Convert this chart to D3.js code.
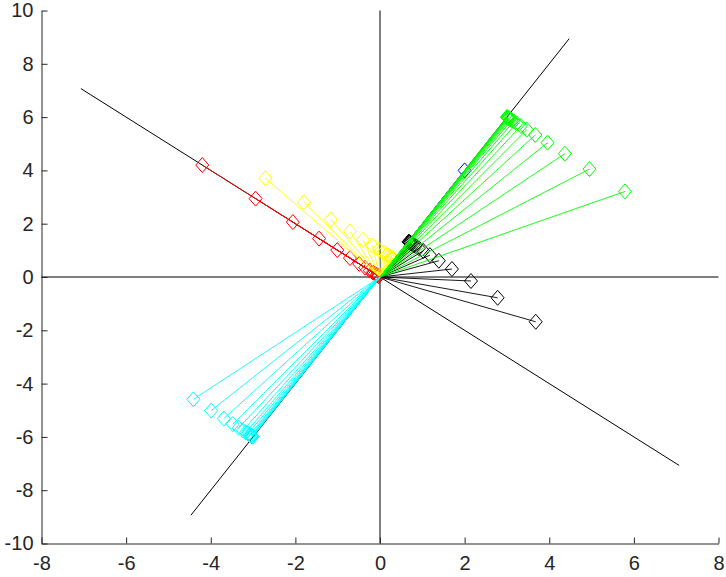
<!DOCTYPE html>
<html><head><meta charset="utf-8">
<script src="https://cdn.jsdelivr.net/npm/d3@7"></script>
<style>body{margin:0;background:#fff}svg{display:block}text{font-family:"Liberation Sans",Arial,Helvetica,sans-serif}</style>
</head><body>
<script>
// ---- data ----
const xTicks = [-8,-6,-4,-2,0,2,4,6,8];
const yTicks = [-10,-8,-6,-4,-2,0,2,4,6,8,10];

const refLineA = [[-7.07, 7.07],[7.07,-7.07]];
const refLineB = [[-4.47,-8.94],[4.47, 8.94]];

const redX = [-4.20,-2.94,-2.06,-1.44,-1.01,-0.71,-0.49,-0.35,-0.24,-0.17,-0.12,-0.08,-0.06,-0.04,-0.03];
const redY = [ 4.20, 2.94, 2.06, 1.44, 1.01, 0.71, 0.49, 0.35, 0.24, 0.17, 0.12, 0.08, 0.06, 0.04, 0.03];

const yellowX = [-2.71,-1.80,-1.16,-0.71,-0.40,-0.18,-0.03,0.08,0.16,0.21,0.25,0.27,0.29,0.30,0.31];
const yellowY = [ 3.71, 2.80, 2.16, 1.71, 1.40, 1.18, 1.03,0.92,0.84,0.79,0.75,0.73,0.71,0.70,0.69];

const blueX = [2.0];
const blueY = [4.0];

const blackX = [3.68,2.78,2.15,1.70,1.39,1.18,1.02,0.92,0.84,0.79,0.755,0.73,0.71,0.70,0.69,0.68,0.68];
const blackY = [-1.68,-0.78,-0.15,0.30,0.61,0.82,0.98,1.08,1.16,1.21,1.245,1.27,1.29,1.30,1.31,1.32,1.32];

const greenX = [5.79,4.95,4.37,3.96,3.67,3.47,3.33,3.23,3.16,3.11,3.08,3.06,3.04,3.03,3.02,3.01,3.01,3.00];
const greenY = [3.21,4.05,4.63,5.04,5.33,5.53,5.67,5.77,5.84,5.89,5.92,5.94,5.96,5.97,5.98,5.99,5.99,6.00];

const cyanX = [-4.41,-3.99,-3.69,-3.48,-3.34,-3.24,-3.17,-3.12,-3.08,-3.06,-3.04,-3.03,-3.02,-3.01,-3.01];
const cyanY = [-4.59,-5.01,-5.31,-5.52,-5.66,-5.76,-5.83,-5.88,-5.92,-5.94,-5.96,-5.97,-5.98,-5.99,-5.99];

const series = [
  {color:"#ff0000", xs:redX, ys:redY},
  {color:"#ffff00", xs:yellowX, ys:yellowY},
  {color:"#0000ff", xs:blueX, ys:blueY},
  {color:"#000000", xs:blackX, ys:blackY},
  {color:"#00ff00", xs:greenX, ys:greenY},
  {color:"#00ffff", xs:cyanX, ys:cyanY}
];

// ---- chart ----
const W = 726, H = 577;
const x = d3.scaleLinear().domain([-8,8]).range([41.5,718.5]);
const y = d3.scaleLinear().domain([-10,10]).range([543.5,10.5]);

const svg = d3.select("body").append("svg").attr("width",W).attr("height",H);

// reference lines
[refLineA, refLineB].forEach(l => {
  svg.append("line")
    .attr("x1",x(l[0][0])).attr("y1",y(l[0][1]))
    .attr("x2",x(l[1][0])).attr("y2",y(l[1][1]))
    .attr("stroke","#000").attr("stroke-width",1);
});
// zero lines
svg.append("line").attr("x1",x(0)).attr("x2",x(0)).attr("y1",y(10)).attr("y2",y(-10))
  .attr("stroke","#000").attr("stroke-width",1);
svg.append("line").attr("x1",x(-8)).attr("x2",x(8)).attr("y1",y(0)).attr("y2",y(0))
  .attr("stroke","#000").attr("stroke-width",1);

const diamond = (cx,cy) => `M${cx},${cy-7.5}L${cx+6.5},${cy}L${cx},${cy+7.5}L${cx-6.5},${cy}Z`;

series.forEach(s => {
  const g = svg.append("g");
  const pts = s.xs.map((v,i)=>[v, s.ys[i]]);
  g.selectAll("line").data(pts).join("line")
    .attr("x1",x(0)).attr("y1",y(0))
    .attr("x2",d=>x(d[0])).attr("y2",d=>y(d[1]))
    .attr("stroke",s.color).attr("stroke-width",0.9);
  g.selectAll("path").data(pts).join("path")
    .attr("d",d=>diamond(x(d[0]),y(d[1])))
    .attr("fill","none").attr("stroke",s.color).attr("stroke-width",1);
});

// axes
const fmt = d => String(d);
const ax = svg.append("g").attr("transform",`translate(0,${y(-10)})`)
  .call(d3.axisBottom(x).tickValues(xTicks).tickFormat(fmt).tickSizeInner(-6).tickSizeOuter(0).tickPadding(12));
const ay = svg.append("g").attr("transform",`translate(${x(-8)},0)`)
  .call(d3.axisLeft(y).tickValues(yTicks).tickFormat(fmt).tickSizeInner(-6).tickSizeOuter(0).tickPadding(8));
[ax, ay].forEach(a => {
  a.select(".domain").attr("stroke","#262626");
  a.selectAll(".tick line").attr("stroke","#262626");
  a.selectAll(".tick text").attr("fill","#262626")
    .style("font-family",'"Liberation Sans",Arial,sans-serif').style("font-size","20px");
});
</script>
</body></html>
